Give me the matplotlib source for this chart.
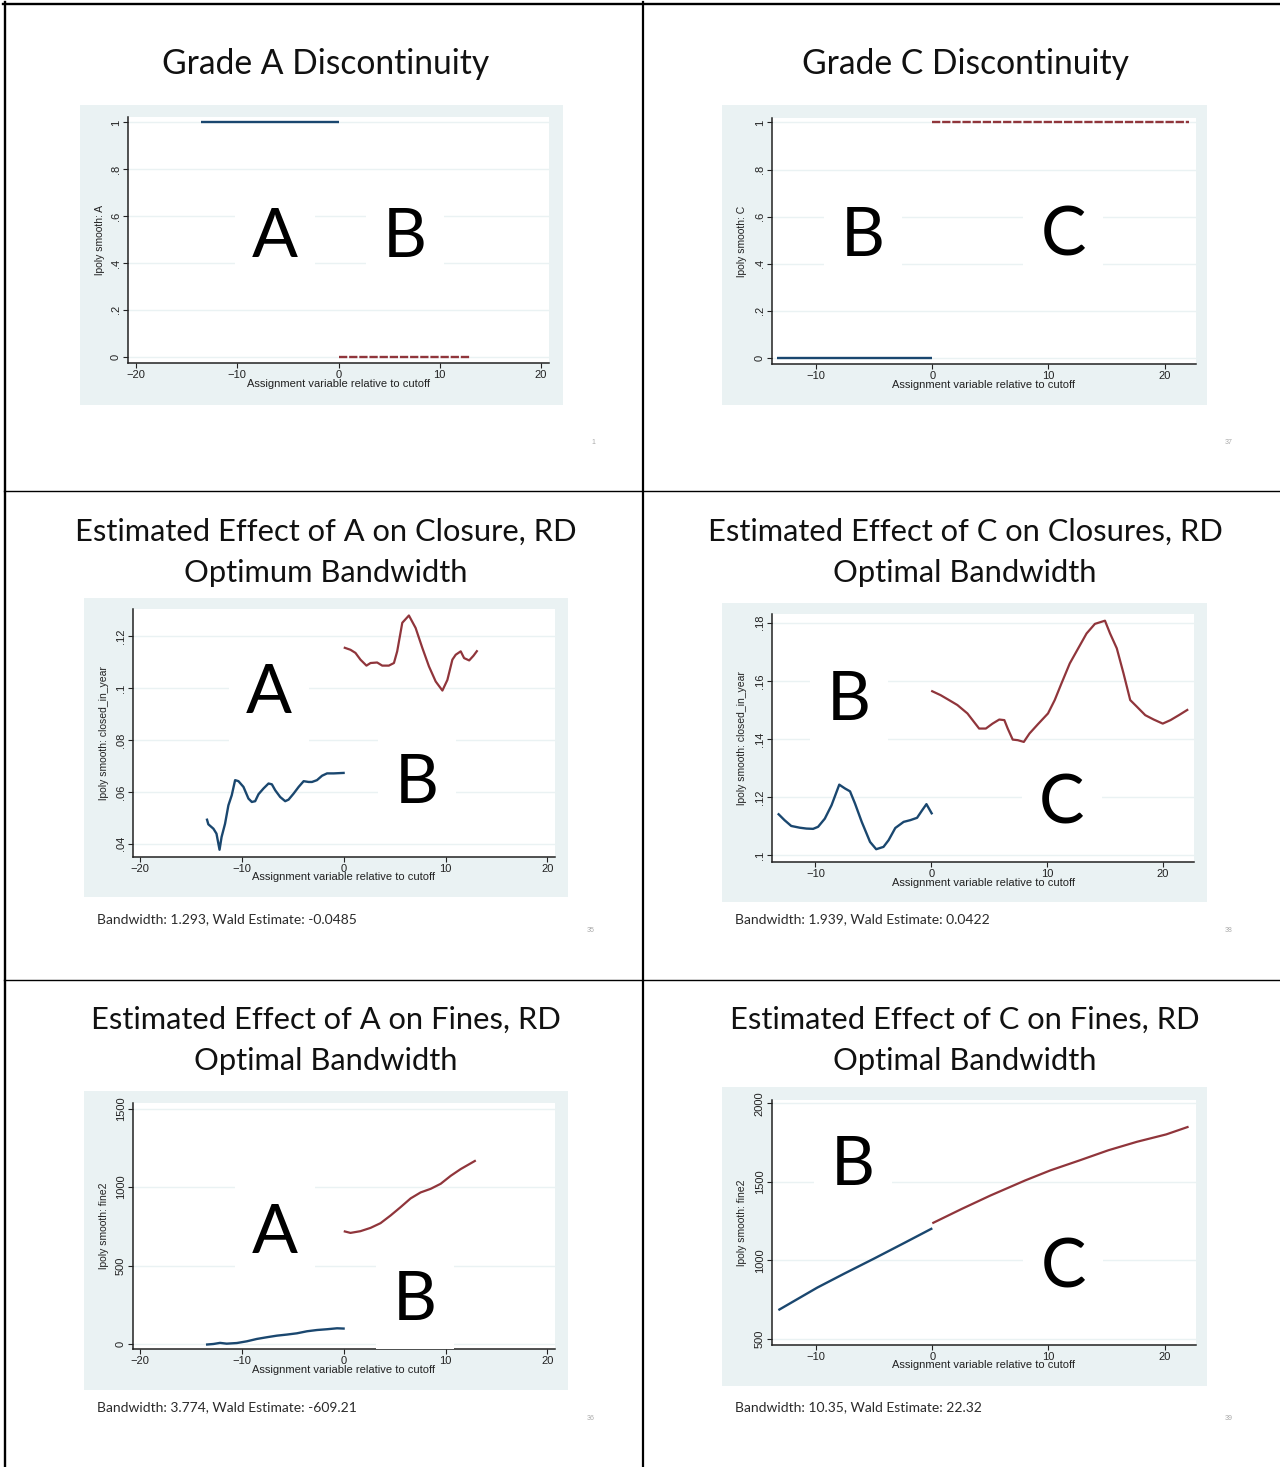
import matplotlib
matplotlib.use("Agg")
import matplotlib.pyplot as plt
from matplotlib.patches import Rectangle
from matplotlib.lines import Line2D

# ---------------- data ----------------
# Panel 1: Grade A discontinuity
p1_left_x = [-13.6, 0.0]
p1_left_y = [1.0, 1.0]
p1_right_x = [0.0, 13.0]
p1_right_y = [0.0, 0.0]

# Panel 2: Grade C discontinuity
p2_left_x = [-13.4, 0.0]
p2_left_y = [0.0, 0.0]
p2_right_x = [0.0, 22.1]
p2_right_y = [1.0, 1.0]

# Panel 3: effect of A on closure
p3_left_x = [-13.46, -13.3, -12.8, -12.5, -12.2, -12.0, -11.66, -11.33, -11.0, -10.67, -10.34,
             -9.85, -9.36, -9.03, -8.7, -8.37, -7.88, -7.39, -7.06, -6.73, -6.24, -5.75, -5.42,
             -4.93, -4.43, -3.94, -3.45, -3.12, -2.63, -2.13, -1.64, -0.99, 0.1]
p3_left_y = [.0497, .0475, .0458, .0439, .0377, .0426, .0477, .0548, .0587, .0645, .0641,
             .0619, .0574, .0561, .0564, .0591, .0613, .0632, .0629, .0606, .0580, .0564, .0570,
             .0593, .0619, .0641, .0638, .0638, .0645, .0662, .0671, .0671, .0673]
p3_right_x = [0.0, 0.66, 1.15, 1.64, 2.23, 2.63, 3.28, 3.78, 4.43, 4.93, 5.25, 5.75, 6.40, 7.06,
              7.72, 8.37, 9.03, 9.69, 10.18, 10.67, 11.0, 11.49, 11.82, 12.32, 12.74, 13.14]
p3_right_y = [.1156, .1147, .1135, .1109, .1086, .1096, .1098, .1086, .1086, .1096, .1141, .1251,
              .1279, .1231, .1154, .1083, .1025, .0990, .1031, .1109, .1128, .1141, .1115, .1106,
              .1124, .1145]

# Panel 4: effect of C on closures
p4_left_x = [-13.25, -12.67, -12.09, -11.36, -10.78, -10.2, -9.77, -9.19, -8.61, -7.94, -7.45,
             -7.01, -6.58, -6.0, -5.28, -4.75, -4.12, -3.68, -3.10, -2.38, -1.80, -1.22, -0.78,
             -0.41, 0.09]
p4_left_y = [.1144, .1121, .1101, .1095, .1092, .1091, .1098, .1126, .1172, .1243, .1230,
             .1220, .1178, .1115, .1046, .1021, .1029, .1052, .1094, .1115, .1121, .1129, .1155,
             .1176, .1141]
p4_right_x = [0.0, 0.81, 1.54, 2.26, 3.13, 4.14, 4.72, 5.30, 5.88, 6.32, 6.61, 7.04, 7.48, 8.0,
              8.49, 9.22, 10.09, 10.67, 11.25, 11.97, 12.70, 13.42, 14.14, 15.01, 15.45, 16.03,
              16.61, 17.19, 17.77, 18.49, 19.22, 20.0, 20.67, 21.39, 22.2]
p4_right_y = [.1566, .1551, .1534, .1517, .1488, .1436, .1436, .1453, .1467, .1465, .1436, .1398,
              .1396, .1390, .1419, .1451, .1488, .1534, .1591, .1660, .1712, .1763, .1796, .1807,
              .1763, .1712, .1626, .1534, .1511, .1482, .1467, .1453, .1465, .1482, .1502]

# Panel 5: effect of A on fines
p5_left_x = [-13.53, -12.8, -12.15, -11.5, -10.5, -9.52, -8.54, -7.55, -6.57, -5.58, -4.6,
             -3.61, -2.63, -1.64, -0.66, 0.1]
p5_left_y = [-4, 0, 7, 2, 6, 17, 32, 43, 53, 60, 68, 81, 89, 94, 100, 98]
p5_right_x = [0.0, 0.66, 1.64, 2.63, 3.61, 4.6, 5.58, 6.57, 7.55, 8.54, 9.52, 10.51, 11.49, 12.97]
p5_right_y = [719, 708, 719, 740, 770, 819, 872, 928, 966, 989, 1021, 1072, 1115, 1170]

# Panel 6: effect of C on fines
p6_left_x = [-13.25, -9.91, -7.59, -4.99, -2.38, 0.0]
p6_left_y = [683, 826, 915, 1012, 1112, 1204]
p6_right_x = [0.0, 2.55, 5.01, 8.0, 10.17, 12.70, 15.16, 17.62, 20.14, 22.06]
p6_right_y = [1236, 1328, 1413, 1509, 1573, 1637, 1701, 1755, 1802, 1851]

titles = [["Grade A Discontinuity"], ["Grade C Discontinuity"],
          ["Estimated Effect of A on Closure, RD", "Optimum Bandwidth"],
          ["Estimated Effect of C on Closures, RD", "Optimal Bandwidth"],
          ["Estimated Effect of A on Fines, RD", "Optimal Bandwidth"],
          ["Estimated Effect of C on Fines, RD", "Optimal Bandwidth"]]
ylabels = ["lpoly smooth: A", "lpoly smooth: C",
           "lpoly smooth: closed_in_year", "lpoly smooth: closed_in_year",
           "lpoly smooth: fine2", "lpoly smooth: fine2"]
xlabel = "Assignment variable relative to cutoff"
yticks = [[0, .2, .4, .6, .8, 1], [0, .2, .4, .6, .8, 1],
          [.04, .06, .08, .1, .12], [.1, .12, .14, .16, .18],
          [0, 500, 1000, 1500], [500, 1000, 1500, 2000]]
yticklabels = [["0", ".2", ".4", ".6", ".8", "1"], ["0", ".2", ".4", ".6", ".8", "1"],
               [".04", ".06", ".08", ".1", ".12"], [".1", ".12", ".14", ".16", ".18"],
               ["0", "500", "1000", "1500"], ["500", "1000", "1500", "2000"]]
xticks_wide = [-20, -10, 0, 10, 20]
xticks_narrow = [-10, 0, 10, 20]
footnotes = [None, None,
             "Bandwidth: 1.293, Wald Estimate: -0.0485",
             "Bandwidth: 1.939, Wald Estimate: 0.0422",
             "Bandwidth: 3.774, Wald Estimate: -609.21",
             "Bandwidth: 10.35, Wald Estimate: 22.32"]
page_numbers = ["1", "37", "35", "38", "36", "39"]
letters = [[("A", 275, 257), ("B", 405, 257)],
           [("B", 863, 256), ("C", 1063, 256)],
           [("A", 269, 713), ("B", 417, 803)],
           [("B", 849, 720), ("C", 1062, 823)],
           [("A", 275, 1253), ("B", 415, 1320)],
           [("B", 853, 1185), ("C", 1063, 1288)]]

# ---------------- layout (pixels) ----------------
W, H = 1280, 1467
BLUE = "#1a476f"
RED = "#90353b"
BG = "#eaf2f3"

fig = plt.figure(figsize=(W / 100, H / 100), dpi=100)
fig.patch.set_facecolor("white")


def fx(x):
    return x / W


def fy(y):
    return 1 - y / H


bg_boxes = [(80, 105, 563, 405), (722, 105, 1207, 405),
            (84, 598, 568, 897), (722, 603, 1207, 902),
            (84, 1091, 568, 1390), (722, 1087, 1207, 1386)]
plot_areas = [(128, 117, 549, 363), (772, 118, 1196, 364),
              (133, 609, 555, 856.5), (772, 614, 1194, 862),
              (133, 1103, 555, 1349), (772, 1100, 1196, 1344.5)]
xlims = [(-20.8, 20.8), (-13.8, 22.7), (-20.7, 20.75), (-13.75, 22.7), (-20.7, 20.75), (-13.8, 22.7)]
ylims = [(-0.027, 1.023), (-0.026, 1.019), (.0351, .1304), (.0977, .183), (-32, 1536), (464, 2021)]

series = [(p1_left_x, p1_left_y, p1_right_x, p1_right_y),
          (p2_left_x, p2_left_y, p2_right_x, p2_right_y),
          (p3_left_x, p3_left_y, p3_right_x, p3_right_y),
          (p4_left_x, p4_left_y, p4_right_x, p4_right_y),
          (p5_left_x, p5_left_y, p5_right_x, p5_right_y),
          (p6_left_x, p6_left_y, p6_right_x, p6_right_y)]

title_x = [326, 965, 326, 965, 326, 965]
title_baselines = [[74], [74], [541, 582], [541, 582], [1029, 1070], [1029, 1070]]
title_sizes = [24.2, 24.2, 22.2, 22.2, 22.2, 22.2]
foot_pos = [None, None, (97, 923), (735, 923), (97, 1411), (735, 1411)]
page_pos = [(593, 442), (1229, 442), (591, 930), (1229, 930), (591, 1418), (1229, 1418)]

TICKFONT = "Liberation Sans"
TITLEFONT = "Lato"

for i in range(6):
    bx0, by0, bx1, by1 = bg_boxes[i]
    fig.add_artist(Rectangle((fx(bx0), fy(by1)), (bx1 - bx0) / W, (by1 - by0) / H,
                             transform=fig.transFigure, facecolor=BG, edgecolor="none", zorder=0))
    l, t, r, b = plot_areas[i]
    ax = fig.add_axes([fx(l), fy(b), (r - l) / W, (b - t) / H])
    ax.set_zorder(1)
    ax.set_facecolor("white")
    lx, ly, rx, ry = series[i]
    ax.plot(lx, ly, color=BLUE, lw=1.7, solid_capstyle="butt", zorder=3)
    if i < 2:
        ax.plot(rx, ry, color=RED, lw=1.7, linestyle=(0, (3.5, 0.8)), zorder=3)
    else:
        ax.plot(rx, ry, color=RED, lw=1.6, solid_capstyle="butt", zorder=3)
    ax.set_xlim(*xlims[i])
    ax.set_ylim(*ylims[i])
    ax.set_xticks(xticks_wide if i % 2 == 0 else xticks_narrow)
    ax.set_yticks(yticks[i])
    ax.set_yticklabels(yticklabels[i], rotation=90, va="center")
    for s in ["top", "right"]:
        ax.spines[s].set_visible(False)
    for s in ["left", "bottom"]:
        ax.spines[s].set_color("#222222")
        ax.spines[s].set_linewidth(1.1)
    ax.grid(axis="y", color=BG, lw=1.0, zorder=0)
    ax.set_axisbelow(True)
    ax.tick_params(direction="out", length=3.6, width=0.8, color="#222222",
                   labelsize=8, pad=1.5, labelcolor="#222222")
    for lab in ax.get_xticklabels() + ax.get_yticklabels():
        lab.set_family(TICKFONT)
    ax.set_xlabel(xlabel, fontsize=8, family=TICKFONT, color="#222222")
    ax.xaxis.set_label_coords(0.5, -21 / (b - t))
    ax.xaxis.label.set_va("center")
    ax.set_ylabel(ylabels[i], fontsize=7.5, family=TICKFONT, color="#222222")
    ax.yaxis.set_label_coords(-(l - (bx0 + 20)) / (r - l), 0.5)
    ax.yaxis.label.set_va("center")

    # title lines
    for line, base in zip(titles[i], title_baselines[i]):
        fig.text(fx(title_x[i]), fy(base), line, ha="center", va="baseline",
                 fontsize=title_sizes[i], family=TITLEFONT, color="#111111", zorder=5)
    # footnote
    if foot_pos[i] is not None:
        fx0, fy0 = foot_pos[i]
        fig.text(fx(fx0), fy(fy0), footnotes[i], ha="left", va="baseline", fontsize=10,
                 family=TITLEFONT, color="#2a2a2a", zorder=5)
    # page number
    px, py = page_pos[i]
    fig.text(fx(px), fy(py), page_numbers[i], ha="center", va="center", fontsize=5,
             family=TICKFONT, color="#aaaaaa", zorder=5)
    # big letters
    for ch, lxp, lyp in letters[i]:
        fig.text(fx(lxp), fy(lyp), ch, ha="center", va="baseline", fontsize=49,
                 family=TITLEFONT, color="black", zorder=6,
                 bbox=dict(facecolor="white", edgecolor="none", boxstyle="square,pad=0.25"))

# frame lines
frame = [((3, 3.5), (1280, 3.5), 1.7),
         ((4.5, 2), (4.5, 1467), 1.7),
         ((643, 2), (643, 1467), 1.6),
         ((4, 491), (1280, 491), 1.0),
         ((4, 980), (1280, 980), 1.0)]
for (x0, y0), (x1, y1), lw in frame:
    fig.add_artist(Line2D([fx(x0), fx(x1)], [fy(y0), fy(y1)], transform=fig.transFigure,
                          color="black", lw=lw, zorder=10))

fig.savefig("out.png", dpi=100, facecolor="white")
